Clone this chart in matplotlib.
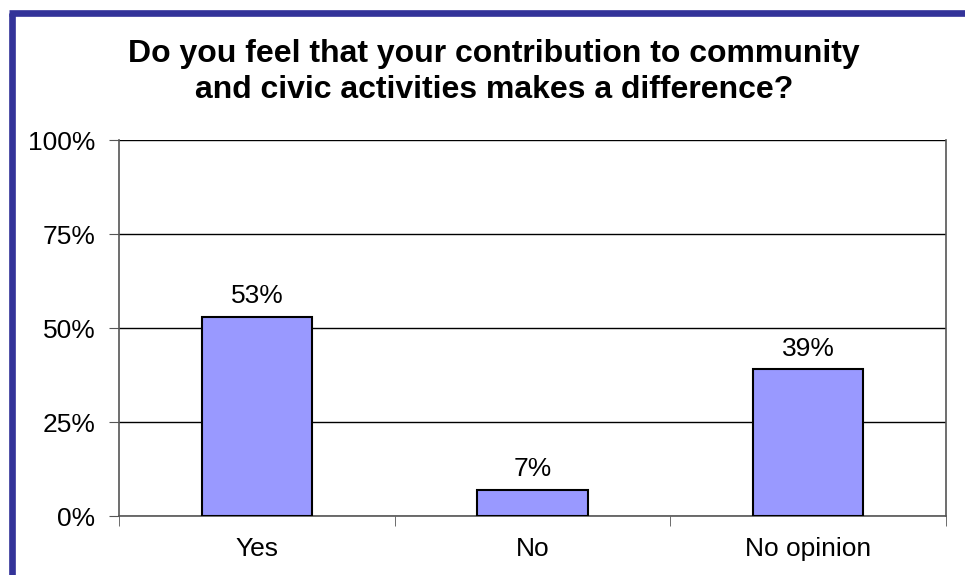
import matplotlib
matplotlib.use("Agg")
import matplotlib.pyplot as plt
from matplotlib.lines import Line2D

categories = ["Yes", "No", "No opinion"]
values = [53, 7, 39]
yticks = [0, 25, 50, 75, 100]
ytick_labels = ["0%", "25%", "50%", "75%", "100%"]
title = "Do you feel that your contribution to community\nand civic activities makes a difference?"

plt.rcParams['font.family'] = ['Liberation Sans', 'DejaVu Sans']

fig = plt.figure(figsize=(9.65, 5.75), dpi=100)
W, H = 965, 575
ax = fig.add_axes([119 / W, 1 - 516 / H, (946 - 119) / W, (516 - 140) / H])

x = list(range(len(categories)))
ax.bar(x, values, width=0.4, color="#9999ff", edgecolor="black", linewidth=1.5, zorder=3)
for xi, v in zip(x, values):
    ax.text(xi, v + 2.2, f"{v}%", ha="center", va="bottom", fontsize=19, color="black")

ax.set_xlim(-0.5, len(categories) - 0.5)
ax.set_ylim(0, 100)
ax.set_yticks(yticks)
ax.set_yticklabels(ytick_labels, fontsize=19)
ax.set_xticks(x)
ax.set_xticklabels(categories, fontsize=19)
ax.tick_params(axis="x", length=0, pad=15)
ax.set_xticks([-0.5, 0.5, 1.5, 2.5], minor=True)
ax.tick_params(axis="x", which="minor", length=7, direction="out", color="#555555")
ax.tick_params(axis="y", length=7, direction="out", color="#555555", pad=10)
ax.yaxis.grid(True, color="black", linewidth=1)
ax.set_axisbelow(True)
for s in ["left", "right", "bottom"]:
    ax.spines[s].set_color("#555555")
    ax.spines[s].set_linewidth(1.2)
ax.spines["top"].set_visible(False)

fig.text(494 / W, 1 - 72 / H, title, ha="center", va="center", fontsize=23,
         fontweight="bold", linespacing=1.25)

# border lines (blue) at left and top
fig.add_artist(Line2D([11.5 / W, 11.5 / W], [0, 1 - 13 / H], color="#333399", linewidth=4.8,
                      transform=fig.transFigure, solid_capstyle="butt"))
fig.add_artist(Line2D([8.5 / W, 1], [1 - 13 / H, 1 - 13 / H], color="#333399", linewidth=4.8,
                      transform=fig.transFigure, solid_capstyle="butt"))

fig.savefig("out.png", dpi=100)
